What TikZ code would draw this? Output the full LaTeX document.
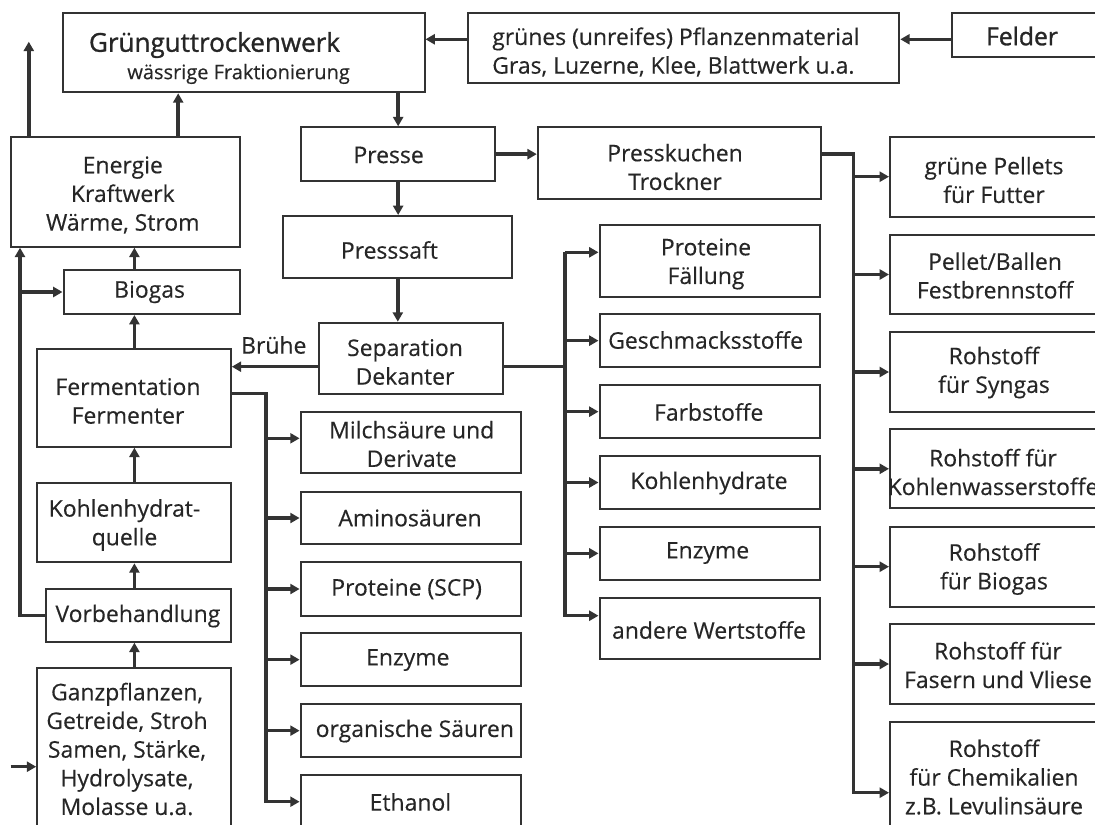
\documentclass[tikz,border=0pt]{standalone}
\usepackage{fontspec}
\setmainfont{Open Sans}
\newfontfamily\bodyfont[FakeBold=0.35]{Open Sans}
\newfontfamily\headfont[FakeBold=1.2]{Open Sans}
\usetikzlibrary{arrows.meta,fit}
\definecolor{ink}{HTML}{333333}
\definecolor{txtc}{HTML}{262626}
\begin{document}
\begin{tikzpicture}[x=0.75pt,y=-0.75pt,
  box/.style={draw=ink, line width=1.5pt, inner sep=0pt},
  txt/.style={text=txtc, font=\fontsize{17.2}{21.5}\bodyfont, align=center, inner sep=0pt},
  head/.style={text=txtc, font=\fontsize{18.5}{21.5}\headfont, inner sep=0pt},
  conn/.style={draw=ink, line width=2.6pt, line join=miter, -{Triangle[length=7pt,width=7.5pt]}},
  bus/.style={draw=ink, line width=2.6pt, line join=miter}]
\useasboundingbox (0,0) rectangle (1095,824);

% ---- boxes (corner coordinates in pixels) ----
\node[box, fit={(63.1,12.7)(424.5,92.3)}] (gw) {};
\node[box, fit={(468.3,12.7)(899.3,83.3)}] (gm) {};
\node[box, fit={(951.7,12.7)(1100,56.7)}] (fd) {};
\node[box, fit={(11.2,136.7)(240,246.7)}] (en) {};
\node[box, fit={(301,127.3)(495.3,181)}] (pr) {};
\node[box, fit={(537.8,127.3)(820.7,199)}] (pk) {};
\node[box, fit={(283.4,216)(512.2,278.3)}] (ps) {};
\node[box, fit={(63.5,270)(240,314)}] (bg) {};
\node[box, fit={(318.5,322.7)(503.4,394)}] (sp) {};
\node[box, fit={(37.2,349.3)(230.8,446.7)}] (fe) {};
\node[box, fit={(37.2,482.7)(230.8,562.3)}] (kq) {};
\node[box, fit={(45.6,589)(230.8,641.7)}] (vb) {};
\node[box, fit={(37.2,668.3)(230.8,865)}] (gz) {};
% fermentation products
\node[box, fit={(300.6,411.7)(521,473.3)}] (f1) {};
\node[box, fit={(300.6,491.7)(521,544.3)}] (f2) {};
\node[box, fit={(300.6,562.3)(521,615.7)}] (f3) {};
\node[box, fit={(300.6,633.3)(521,686)}] (f4) {};
\node[box, fit={(300.6,704)(521,757.3)}] (f5) {};
\node[box, fit={(300.6,775)(521,828.4)}] (f6) {};
% separation products
\node[box, fit={(599.5,225)(820.4,296.7)}] (s1) {};
\node[box, fit={(599.5,314)(820.4,367.3)}] (s2) {};
\node[box, fit={(599.5,385)(820.4,438.3)}] (s3) {};
\node[box, fit={(599.5,456)(820.4,509)}] (s4) {};
\node[box, fit={(599.5,526.7)(820.4,580)}] (s5) {};
\node[box, fit={(599.5,597.7)(820.4,659.3)}] (s6) {};
% press cake products
\node[box, fit={(890,136.7)(1097,216.7)}] (r1) {};
\node[box, fit={(890,235)(1097,314)}] (r2) {};
\node[box, fit={(890,332.3)(1097,411.7)}] (r3) {};
\node[box, fit={(890,429.3)(1097,508.3)}] (r4) {};
\node[box, fit={(890,526.7)(1097,606.7)}] (r5) {};
\node[box, fit={(890,624)(1097,704)}] (r6) {};
\node[box, fit={(890,721.7)(1097,863.7)}] (r7) {};

% ---- texts ----
\node[head, font=\fontsize{19.5}{21.5}\headfont] (t-gw) at (214.5,45) {Grünguttrockenwerk};
\node[txt, font=\fontsize{15}{21.5}\bodyfont] (t-gw2) at (238.6,74) {wässrige Fraktionierung};
\node[txt, align=left, anchor=west] (t-gm) at (492,52) {grünes (unreifes) Pflanzenmaterial\\Gras, Luzerne, Klee, Blattwerk u.a.};
\node[head] (t-fd) at (1022,36) {Felder};
\node[txt] (t-en) at (122.8,195) {Energie\\Kraftwerk\\Wärme, Strom};
\node[txt] (t-pr) at (388.6,155) {Presse};
\node[txt] (t-pk) at (675,167) {Presskuchen\\Trockner};
\node[txt] (t-ps) at (389.4,250) {Presssaft};
\node[txt] (t-bg) at (149.6,292) {Biogas};
\node[txt] (t-sp) at (405,362) {Separation\\Dekanter};
\node[txt] (t-br) at (273.8,345) {Brühe};
\node[txt] (t-fe) at (128,401) {Fermentation\\Fermenter};
\node[txt] (t-kq) at (124.5,525) {Kohlenhydrat-\\quelle};
\node[txt] (t-vb) at (137.9,616) {Vorbehandlung};
\node[txt] (t-gz) at (127,749) {Ganzpflanzen,\\Getreide, Stroh\\Samen, Stärke,\\Hydrolysate,\\Molasse u.a.};
\node[txt] (t-f1) at (411.7,444) {Milchsäure und\\Derivate};
\node[txt] (t-f2) at (410,518) {Aminosäuren};
\node[txt] (t-f3) at (406.6,589) {Proteine (SCP)};
\node[txt] (t-f4) at (407.8,660) {Enzyme};
\node[txt] (t-f5) at (414.8,731) {organische Säuren};
\node[txt] (t-f6) at (410.4,802) {Ethanol};
\node[txt] (t-s1) at (706,264) {Proteine\\Fällung};
\node[txt] (t-s2) at (705.6,340) {Geschmacksstoffe};
\node[txt] (t-s3) at (708.7,412) {Farbstoffe};
\node[txt] (t-s4) at (709,483) {Kohlenhydrate};
\node[txt] (t-s5) at (707.5,553) {Enzyme};
\node[txt] (t-s6) at (709,630) {andere Wertstoffe};
\node[txt] (t-r1) at (994,180) {grüne Pellets\\für Futter};
\node[txt] (t-r2) at (995,275.5) {Pellet/Ballen\\Festbrennstoff};
\node[txt] (t-r3) at (994,372.5) {Rohstoff\\für Syngas};
\node[txt] (t-r4) at (993,472) {Rohstoff für\\Kohlenwasserstoffe};
\node[txt] (t-r5) at (994,569) {Rohstoff\\für Biogas};
\node[txt] (t-r6) at (998,665) {Rohstoff für\\Fasern und Vliese};
\node[txt] (t-r7) at (994,777) {Rohstoff\\für Chemikalien\\z.B. Levulinsäure};

% ---- helper coordinates for connector lanes ----
\coordinate (yTop) at (0,39.3);
\coordinate (ySep) at (0,366.7);
\coordinate (col) at (134.4,0);
\coordinate (lane2) at (178.2,0);
\coordinate (lane3) at (28.8,0);
\coordinate (loop) at (20,0);
\coordinate (kb) at (853.3,0);
\coordinate (sb) at (564.8,0);
\coordinate (fb) at (266,0);
\coordinate (outTop) at (28.8,41.7);
\coordinate (inp) at (10.5,766.7);
\coordinate (s1in) at ([yshift=6.4pt]s1.west);
\coordinate (s6in) at ([yshift=9.6pt]s6.west);
\coordinate (f1in) at ([yshift=3.15pt]f1.west);
\coordinate (fout) at ([yshift=3.5pt]fe.east);

% ---- connectors ----
\draw[conn] (fd.west |- yTop) -- (gm.east |- yTop);
\draw[conn] (gm.west |- yTop) -- (gw.east |- yTop);
\draw[conn] (gw.south -| pr.north) -- (pr.north);
\draw[conn] (pr.south) -- (ps.north -| pr.south);
\draw[conn] (ps.south) -- (sp.north -| ps.south);
\draw[conn] (pr.east) -- (pk.west |- pr.east);

% press cake distribution
\draw[conn] (pk.east |- pr.east) -- (kb |- pr.east) -- (kb |- r7.west) -- (r7.west);
\foreach \r in {r1,r2,r3,r4,r5,r6}
  \draw[conn] (kb |- \r.west) -- (\r.west);

% separation distribution
\draw[bus] (sp.east |- ySep) -- (sb |- ySep);
\draw[conn] (sb |- s1in) -- (s1in);
\draw[conn] (sb |- s1in) -- (sb |- s6in) -- (s6in);
\foreach \s in {s2,s3,s4,s5}
  \draw[conn] (sb |- \s.west) -- (\s.west);

% broth to fermentation
\draw[conn] (sp.west |- ySep) -- (fe.east |- ySep);

% fermentation distribution
\draw[conn] (fout) -- (fb |- fout) -- (fb |- f6.west) -- (f6.west);
\draw[conn] (fb |- f1in) -- (f1in);
\foreach \f in {f2,f3,f4,f5}
  \draw[conn] (fb |- \f.west) -- (\f.west);

% left column chain
\draw[conn] (col |- gz.north) -- (col |- vb.south);
\draw[conn] (col |- vb.north) -- (col |- kq.south);
\draw[conn] (col |- kq.north) -- (col |- fe.south);
\draw[conn] (col |- fe.north) -- (col |- bg.south);
\draw[conn] (col |- bg.north) -- (col |- en.south);
\draw[conn] (lane2 |- en.north) -- (lane2 |- gw.south);
\draw[conn] (lane3 |- en.north) -- (outTop);
\draw[conn] (vb.west) -- (loop |- vb.west) -- (loop |- en.south);
\draw[conn] (loop |- bg.west) -- (bg.west);
\draw[conn] (inp) -- (gz.west |- inp);
\end{tikzpicture}
\end{document}
